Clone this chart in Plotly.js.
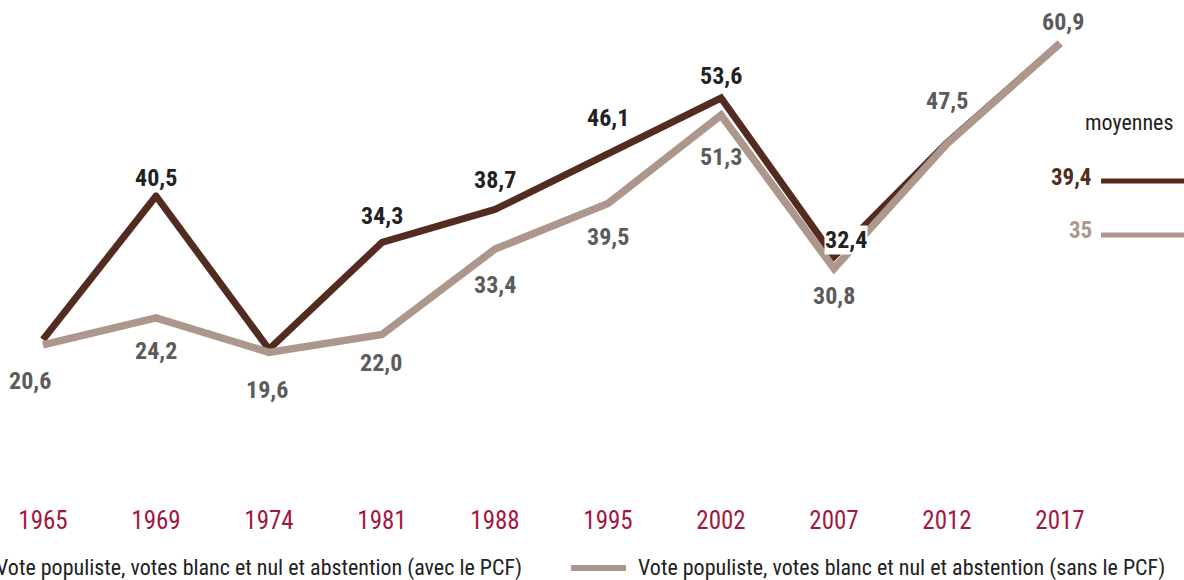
<!DOCTYPE html>
<html>
<head>
<meta charset="utf-8">
<script src="https://cdn.plot.ly/plotly-3.0.1.min.js"></script>
<style>
html,body{margin:0;padding:0;background:#fff;}
#chart{width:1184px;height:580px;}
</style>
</head>
<body>
<div id="chart"></div>
<script>
// ---- data ----
var years = ['1965','1969','1974','1981','1988','1995','2002','2007','2012','2017'];
var avecPCF = [21.3, 40.5, 20.0, 34.3, 38.7, 46.1, 53.6, 32.4, 47.6, 60.9];
var sansPCF = [20.6, 24.2, 19.6, 22.0, 33.4, 39.5, 51.3, 30.8, 47.5, 60.9];
var labelsAvec = ['', '40,5', '', '34,3', '38,7', '46,1', '53,6', '32,4', '', ''];
var labelsSans = ['20,6', '24,2', '19,6', '22,0', '33,4', '39,5', '51,3', '30,8', '47,5', '60,9'];
var seriesNames = ['Vote populiste, votes blanc et nul et abstention (avec le PCF)',
                   'Vote populiste, votes blanc et nul et abstention (sans le PCF)'];
var averagesTitle = 'moyennes';
var averages = ['39,4', '35'];

// ---- styles / positions ----
var FONT = 'Liberation Sans Narrow, Roboto Condensed, DejaVu Sans Condensed, Arial Narrow, sans-serif';
var DARK = '#532b21';
var LIGHT = '#ad978d';
var W = 1184, PH = 500;
var shiftAvec = [[0,0],[0,18],[0,0],[0,26],[0,29],[0,36],[0,22],[12,17],[0,0],[0,0]];
var shiftSans = [[-13,-36],[0,-33],[-2,-38],[-1,-29],[0,-36],[0,-34],[0,-42],[0,-27],[0,43],[3,21]];
var sansColors = '#5b5b5b';

function px(x){ return x / W; }
function py(y){ return (PH - y) / PH; }

var traces = [
  {x: years, y: avecPCF, type: 'scatter', mode: 'lines', name: seriesNames[0],
   line: {color: DARK, width: 7}, hoverinfo: 'x+y', showlegend: false},
  {x: years, y: sansPCF, type: 'scatter', mode: 'lines', name: seriesNames[1],
   line: {color: LIGHT, width: 7.5}, hoverinfo: 'x+y', showlegend: false}
];

var annotations = [];
years.forEach(function(yr, i){
  if (labelsAvec[i]) {
    annotations.push({x: i, y: avecPCF[i], xref: 'x', yref: 'y', text: labelsAvec[i],
      showarrow: false, xshift: shiftAvec[i][0], yshift: shiftAvec[i][1],
      bgcolor: 'rgba(255,255,255,1)', borderpad: 0,
      font: {family: FONT, size: 24, color: '#222222', weight: 'bold'}});
  }
  annotations.push({x: i, y: sansPCF[i], xref: 'x', yref: 'y', text: labelsSans[i],
    showarrow: false, xshift: shiftSans[i][0], yshift: shiftSans[i][1],
    font: {family: FONT, size: 24, color: sansColors, weight: 'bold'}});
});

// legend (manual)
annotations.push({x: px(524), y: py(568), xref: 'paper', yref: 'paper', xanchor: 'right', yanchor: 'middle',
  text: seriesNames[0], showarrow: false, font: {family: FONT, size: 22, color: '#222222'}});
annotations.push({x: px(636), y: py(568), xref: 'paper', yref: 'paper', xanchor: 'left', yanchor: 'middle',
  text: seriesNames[1], showarrow: false, font: {family: FONT, size: 22, color: '#222222'}});

// moyennes
annotations.push({x: px(1129), y: py(122), xref: 'paper', yref: 'paper', xanchor: 'center', yanchor: 'middle',
  text: averagesTitle, showarrow: false, font: {family: FONT, size: 22, color: '#222222'}});
annotations.push({x: px(1094), y: py(177), xref: 'paper', yref: 'paper', xanchor: 'right', yanchor: 'middle',
  text: averages[0], showarrow: false, font: {family: FONT, size: 23, color: DARK, weight: 'bold'}});
annotations.push({x: px(1094), y: py(231), xref: 'paper', yref: 'paper', xanchor: 'right', yanchor: 'middle',
  text: averages[1], showarrow: false, font: {family: FONT, size: 23, color: LIGHT, weight: 'bold'}});

var shapes = [
  {type: 'line', xref: 'paper', yref: 'paper', x0: px(-60), x1: px(-8), y0: py(568), y1: py(568),
   line: {color: DARK, width: 6}},
  {type: 'line', xref: 'paper', yref: 'paper', x0: px(571), x1: px(626), y0: py(568), y1: py(568),
   line: {color: LIGHT, width: 6}},
  {type: 'line', xref: 'paper', yref: 'paper', x0: px(1101), x1: px(1190), y0: py(181), y1: py(181),
   line: {color: DARK, width: 5}},
  {type: 'line', xref: 'paper', yref: 'paper', x0: px(1101), x1: px(1190), y0: py(235), y1: py(235),
   line: {color: LIGHT, width: 5}}
];

var layout = {
  width: 1184, height: 580,
  margin: {l: 0, r: 0, t: 0, b: 80, autoexpand: false},
  paper_bgcolor: '#ffffff', plot_bgcolor: '#ffffff',
  showlegend: false,
  xaxis: {type: 'category', range: [-0.3805, 10.097], showgrid: false, zeroline: false, showline: false,
    ticks: '', ticklabelstandoff: 3, tickfont: {family: FONT, size: 25, color: '#a3173f'}, fixedrange: true},
  yaxis: {range: [-0.14, 66.7], showgrid: false, zeroline: false, showline: false,
    showticklabels: false, ticks: '', fixedrange: true},
  annotations: annotations,
  shapes: shapes
};

Plotly.newPlot('chart', traces, layout, {displayModeBar: false, staticPlot: true});
</script>
</body>
</html>
